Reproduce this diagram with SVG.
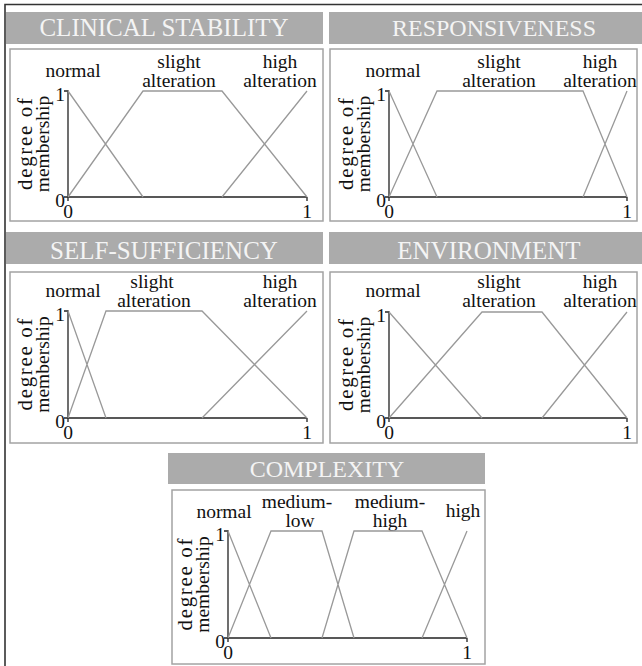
<svg xmlns="http://www.w3.org/2000/svg" width="642" height="666" viewBox="0 0 642 666">
<style>
.frame{stroke:#333;stroke-width:1.6;fill:none}
.bar{fill:#ababab}
.box{fill:#fff;stroke:#a3a3a3;stroke-width:1.5}
.title{font-family:"Liberation Serif","Times New Roman",serif;font-size:25px;fill:#f4f4f4;text-anchor:middle}
.lbl{font-family:"Liberation Serif","Times New Roman",serif;font-size:19.5px;fill:#111;text-anchor:middle}
.deg{font-size:21px}
.num{font-family:"Liberation Serif","Times New Roman",serif;font-size:19.5px;fill:#111}
.end{text-anchor:end}
.mid{text-anchor:middle}
.axis{stroke:#222;stroke-width:1.3;fill:none}
.mf{stroke:#999;stroke-width:1.3;fill:none}
</style>
<rect width="642" height="666" fill="#fff"/>
<path class="frame" d="M5 666V4.5H642"/>

<g id="clinical-stability">
<rect class="bar" x="6" y="12" width="317" height="32"/>
<text class="title" x="164" y="36">CLINICAL STABILITY</text>
<rect class="box" x="10" y="49" width="313" height="172"/>
<text class="lbl" x="73" y="77">normal</text>
<text class="lbl" x="179" y="68">slight</text>
<text class="lbl" x="179" y="87">alteration</text>
<text class="lbl" x="280" y="68">high</text>
<text class="lbl" x="280" y="87">alteration</text>
<text class="lbl deg" transform="translate(32,144) rotate(-90)" textLength="92" lengthAdjust="spacing">degree of</text>
<text class="lbl" transform="translate(49,144) rotate(-90)">membership</text>
<text class="num end" x="65" y="101">1</text>
<text class="num end" x="65" y="207">0</text>
<text class="num mid" x="68" y="218">0</text>
<text class="num mid" x="307" y="218">1</text>
<path class="axis" d="M64 91H68V197H307M64 197H68V201M307 197V201"/>
<path class="mf" d="M68 91L143 197M68 197L143 91H222L307 197M222 197L307 91"/>
</g>

<g id="responsiveness">
<rect class="bar" x="329" y="12" width="313" height="32"/>
<text class="title" x="494" y="36" style="font-size:24px">RESPONSIVENESS</text>
<rect class="box" x="330" y="49" width="307" height="172"/>
<text class="lbl" x="393" y="77">normal</text>
<text class="lbl" x="499" y="68">slight</text>
<text class="lbl" x="499" y="87">alteration</text>
<text class="lbl" x="600" y="68">high</text>
<text class="lbl" x="600" y="87">alteration</text>
<text class="lbl deg" transform="translate(353,144) rotate(-90)" textLength="92" lengthAdjust="spacing">degree of</text>
<text class="lbl" transform="translate(370,144) rotate(-90)">membership</text>
<text class="num end" x="386" y="101">1</text>
<text class="num end" x="386" y="207">0</text>
<text class="num mid" x="389" y="218">0</text>
<text class="num mid" x="627" y="218">1</text>
<path class="axis" d="M385 91H389V197H627M385 197H389V201M627 197V201"/>
<path class="mf" d="M389 91L437 197M389 197L437 91H583L627 197M583 197L627 91"/>
</g>

<g id="self-sufficiency">
<rect class="bar" x="6" y="232" width="317" height="32"/>
<text class="title" x="164" y="259">SELF-SUFFICIENCY</text>
<rect class="box" x="10" y="272" width="313" height="171"/>
<text class="lbl" x="73" y="297">normal</text>
<text class="lbl" x="152" y="288">slight</text>
<text class="lbl" x="154" y="307">alteration</text>
<text class="lbl" x="280" y="288">high</text>
<text class="lbl" x="280" y="307">alteration</text>
<text class="lbl deg" transform="translate(32,364.5) rotate(-90)" textLength="92" lengthAdjust="spacing">degree of</text>
<text class="lbl" transform="translate(49,364.5) rotate(-90)">membership</text>
<text class="num end" x="65" y="321">1</text>
<text class="num end" x="65" y="428">0</text>
<text class="num mid" x="68" y="439">0</text>
<text class="num mid" x="307" y="439">1</text>
<path class="axis" d="M64 311H68V418H307M64 418H68V422M307 418V422"/>
<path class="mf" d="M68 311L106 418M68 418L106 311H202L307 418M202 418L307 311"/>
</g>

<g id="environment">
<rect class="bar" x="329" y="232" width="313" height="32"/>
<text class="title" x="489" y="259">ENVIRONMENT</text>
<rect class="box" x="330" y="272" width="307" height="171"/>
<text class="lbl" x="393" y="297">normal</text>
<text class="lbl" x="499" y="288">slight</text>
<text class="lbl" x="499" y="307">alteration</text>
<text class="lbl" x="600" y="288">high</text>
<text class="lbl" x="600" y="307">alteration</text>
<text class="lbl deg" transform="translate(353,365) rotate(-90)" textLength="92" lengthAdjust="spacing">degree of</text>
<text class="lbl" transform="translate(370,365) rotate(-90)">membership</text>
<text class="num end" x="386" y="322">1</text>
<text class="num end" x="386" y="428">0</text>
<text class="num mid" x="389" y="439">0</text>
<text class="num mid" x="627" y="439">1</text>
<path class="axis" d="M385 312H389V418H627M385 418H389V422M627 418V422"/>
<path class="mf" d="M389 312L482 418M389 418L482 312H542L627 418M542 418L627 312"/>
</g>

<g id="complexity">
<rect class="bar" x="168" y="453" width="317" height="31"/>
<text class="title" x="327" y="477" style="font-size:24px">COMPLEXITY</text>
<rect class="box" x="172" y="490" width="313" height="174"/>
<text class="lbl" x="224" y="518">normal</text>
<text class="lbl" x="297" y="508">medium-</text>
<text class="lbl" x="300" y="527">low</text>
<text class="lbl" x="390" y="508">medium-</text>
<text class="lbl" x="390" y="527">high</text>
<text class="lbl" x="463" y="517">high</text>
<text class="lbl deg" transform="translate(192,584.5) rotate(-90)" textLength="92" lengthAdjust="spacing">degree of</text>
<text class="lbl" transform="translate(209,584.5) rotate(-90)">membership</text>
<text class="num end" x="225" y="541">1</text>
<text class="num end" x="225" y="648">0</text>
<text class="num mid" x="228" y="659">0</text>
<text class="num mid" x="467" y="659">1</text>
<path class="axis" d="M224 531H228V638H467M224 638H228V642M467 638V642"/>
<path class="mf" d="M228 531L271 638M228 638L271 531H322L354 638M322 638L354 531H422L467 638M422 638L467 531"/>
</g>
</svg>
